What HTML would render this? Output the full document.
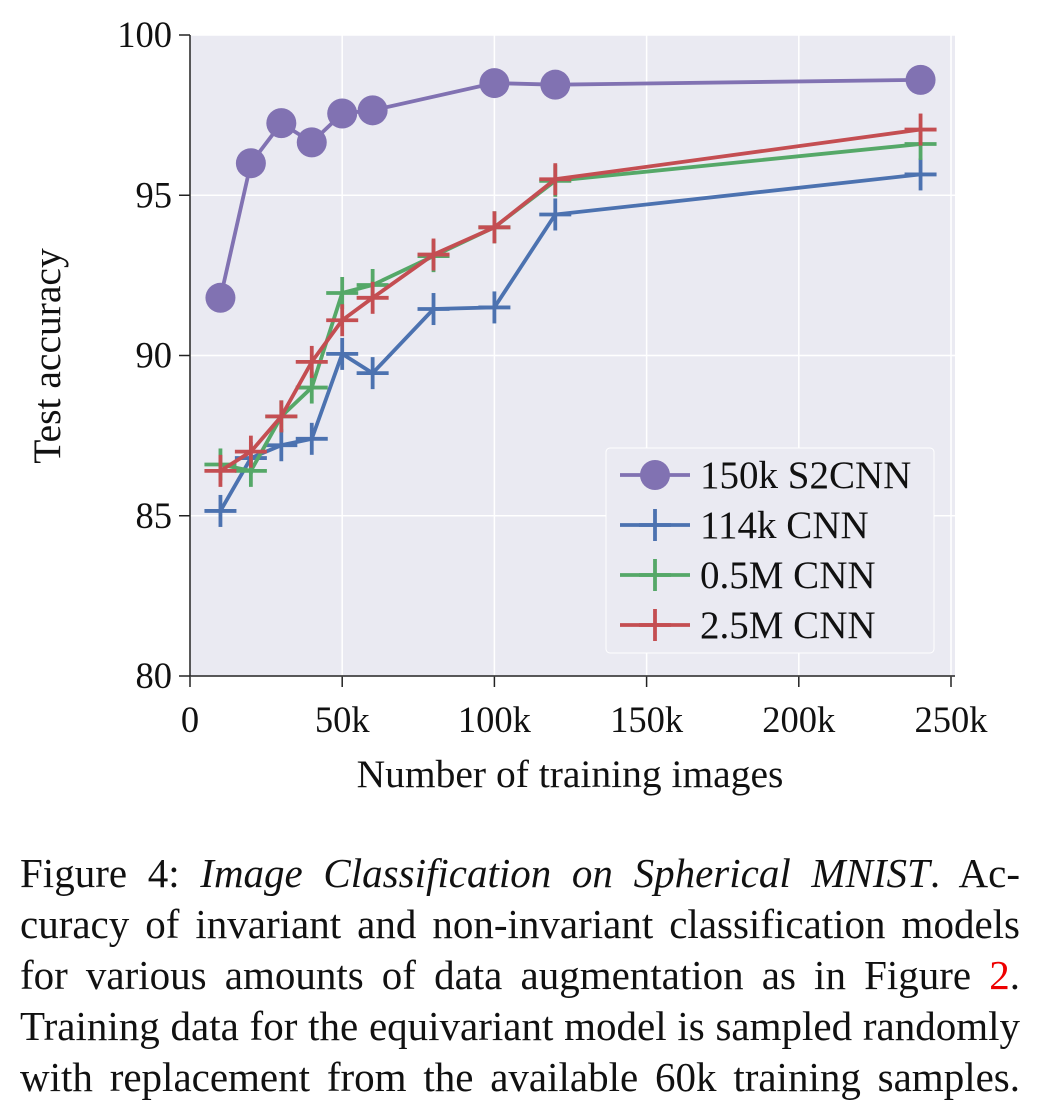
<!DOCTYPE html>
<html><head><meta charset="utf-8"><style>
body{margin:0;background:#fff;width:1059px;height:1108px;overflow:hidden;font-family:"Liberation Serif",serif}
.cap{position:absolute;left:20px;top:848px;width:1000px;font-size:41px;line-height:51px;color:#111}
.ln{text-align:justify;text-align-last:justify;white-space:nowrap;height:51px}
</style></head><body>
<svg id="chart" width="1059" height="840" style="position:absolute;left:0;top:0" font-family="Liberation Serif, serif"></svg>
<div class="cap">
<div class="ln">Figure 4: <i>Image Classification on Spherical MNIST</i>. Ac-</div>
<div class="ln">curacy of invariant and non-invariant classification models</div>
<div class="ln">for various amounts of data augmentation as in Figure <span style="color:#e00">2</span>.</div>
<div class="ln">Training data for the equivariant model is sampled randomly</div>
<div class="ln">with replacement from the available 60k training samples.</div>
</div>
<script>
const xs1=[10,20,30,40,50,60,100,120,240];
const s2cnn=[91.8,96.0,97.25,96.65,97.55,97.65,98.5,98.45,98.6];
const xs2=[10,20,30,40,50,60,80,100,120,240];
const cnn114k=[85.15,86.8,87.2,87.4,90.05,89.45,91.45,91.5,94.4,95.65];
const cnn05m=[86.6,86.4,88.1,89.0,91.95,92.2,93.1,94.0,95.45,96.6];
const cnn25m=[86.4,87.0,88.1,89.8,91.1,91.8,93.15,94.0,95.5,97.05];
const xTicks=[0,50,100,150,200,250];
const xTickLabels=["0","50k","100k","150k","200k","250k"];
const yTicks=[80,85,90,95,100];
const NS="http://www.w3.org/2000/svg";
const svg=document.getElementById('chart');
const X=v=>190+v*(761/250);
const Y=v=>676-(v-80)*(641/20);
function mk(t,a,p){const e=document.createElementNS(NS,t);for(const k in a)e.setAttribute(k,a[k]);(p||svg).appendChild(e);return e;}
const bg=mk('rect',{x:190,y:35,width:765,height:641,fill:'#eaeaf2'});


xTicks.forEach((t,i)=>{
 const g=mk('line',{x1:X(t),x2:X(t),y1:35,y2:676,stroke:'#fff','stroke-width':1.5});
 
 
 mk('line',{x1:X(t),x2:X(t),y1:676,y2:687,stroke:'#222','stroke-width':1.5});
 const l=mk('text',{x:X(t),y:732,'text-anchor':'middle','font-size':36.5,fill:'#111'});l.textContent=xTickLabels[i];
 
 
});
yTicks.forEach(t=>{
 const g=mk('line',{x1:190,x2:955,y1:Y(t),y2:Y(t),stroke:'#fff','stroke-width':1.5});
 
 
 mk('line',{x1:179,x2:190,y1:Y(t),y2:Y(t),stroke:'#222','stroke-width':1.5});
 const l=mk('text',{x:172,y:Y(t)+12,'text-anchor':'end','font-size':36.5,fill:'#111'});l.textContent=t;
 
 
});
mk('line',{x1:190,x2:190,y1:35,y2:676,stroke:'#222','stroke-width':1.5});
mk('line',{x1:190,x2:955,y1:676,y2:676,stroke:'#222','stroke-width':1.5});
let t=mk('text',{x:570,y:787,'text-anchor':'middle','font-size':39.5,fill:'#111'});t.textContent='Number of training images';


t=mk('text',{x:0,y:0,'text-anchor':'middle','font-size':39.5,fill:'#111',transform:'translate(60,356) rotate(-90)'});t.textContent='Test accuracy';


function plus(g,x,y,c){mk('line',{x1:x-16,x2:x+16,y1:y,y2:y,stroke:c,'stroke-width':3.8},g);mk('line',{x1:x,x2:x,y1:y-16,y2:y+16,stroke:c,'stroke-width':3.8},g);}
function series(xv,yv,c,name,circ){
 const g=mk('g',{});
 
 
 mk('polyline',{points:xv.map((x,i)=>X(x)+','+Y(yv[i])).join(' '),fill:'none',stroke:c,'stroke-width':3.8},g);
 xv.forEach((x,i)=>{if(circ)mk('circle',{cx:X(x),cy:Y(yv[i]),r:15,fill:c},g);else plus(g,X(x),Y(yv[i]),c);});
}
series(xs1,s2cnn,'#8172b2','series-150k-s2cnn',true);
series(xs2,cnn114k,'#4c72b0','series-114k-cnn');
series(xs2,cnn05m,'#55a868','series-05m-cnn');
series(xs2,cnn25m,'#c44e52','series-25m-cnn');
const lg=mk('g',{});


mk('rect',{x:606,y:448,width:328,height:205,rx:4,fill:'#eaeaf2',stroke:'#fff','stroke-width':1},lg);
const L=[['150k S2CNN','#8172b2',1],['114k CNN','#4c72b0',0],['0.5M CNN','#55a868',0],['2.5M CNN','#c44e52',0]];
L.forEach((e,i)=>{const y=475+i*50;
 const g=mk('g',{},lg);
 
 
 mk('line',{x1:620,x2:690,y1:y,y2:y,stroke:e[1],'stroke-width':3.8},g);
 if(e[2])mk('circle',{cx:655,cy:y,r:15,fill:e[1]},g);else plus(g,655,y,e[1]);
 const tx=mk('text',{x:700,y:y+13,'font-size':39,fill:'#111'},g);tx.textContent=e[0];
});
</script>
</body></html>
